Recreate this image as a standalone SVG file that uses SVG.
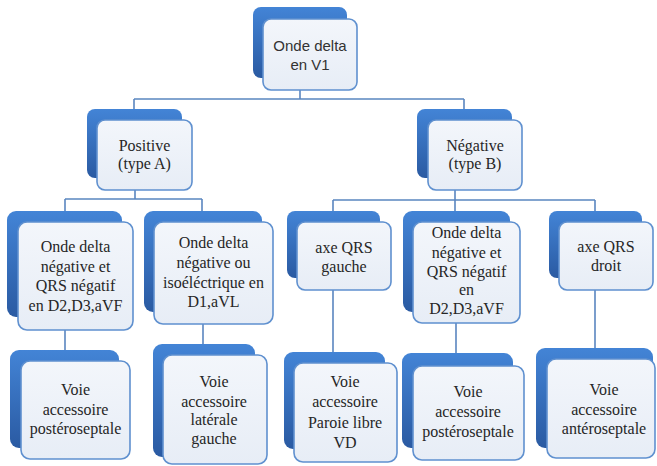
<svg xmlns="http://www.w3.org/2000/svg" width="657" height="466" viewBox="0 0 657 466">
<defs>
<linearGradient id="gBack" x1="0" y1="0" x2="0" y2="1">
<stop offset="0" stop-color="#4384d6"/>
<stop offset="1" stop-color="#2a5aa2"/>
</linearGradient>
<linearGradient id="gFront" x1="0" y1="0" x2="0" y2="1">
<stop offset="0" stop-color="#f3f6fb"/>
<stop offset="1" stop-color="#e7edf6"/>
</linearGradient>
<style>
.back{fill:url(#gBack)}
.front{fill:url(#gFront);stroke:#5f90cf;stroke-width:1.6}
.t{font-family:"Liberation Serif","Times New Roman",serif;font-size:16px;fill:#262626;text-anchor:middle}
.ts{font-family:"Liberation Sans",Arial,sans-serif;font-size:15px;fill:#333;text-anchor:middle}
.c{fill:none;stroke:#5a86c0;stroke-width:1.6}
</style>
</defs>
<rect width="657" height="466" fill="#ffffff"/>
<g id="connectors">
<path class="c" d="M300,90 V99 M134,99 H464 M134,99 V109 M464,99 V109"/>
<path class="c" d="M135,190 V199 M65,199 H202 M65,199 V211 M202,199 V211"/>
<path class="c" d="M455,190 V200 M333,200 H595 M333,200 V211 M455,200 V211 M595,200 V211"/>
<path class="c" d="M65,330 V350 M203,324 V344 M333,290 V352 M456,323 V353 M595,290 V348"/>
</g>
<g id="n-root">
<rect class="back" x="253" y="7" width="94" height="71" rx="8"/>
<rect class="front" x="263" y="19" width="94" height="71" rx="8"/>
<text class="ts" x="310" y="51">Onde delta</text>
<text class="ts" x="310" y="70">en V1</text>
</g>
<g id="n-positive">
<rect class="back" x="87" y="109" width="95" height="69" rx="8"/>
<rect class="front" x="97" y="120" width="95" height="70" rx="8"/>
<text class="t" x="144.5" y="151">Positive</text>
<text class="t" x="144.5" y="169">(type A)</text>
</g>
<g id="n-negative">
<rect class="back" x="417" y="109" width="95" height="69" rx="8"/>
<rect class="front" x="428" y="120" width="94" height="70" rx="8"/>
<text class="t" x="475" y="151">Négative</text>
<text class="t" x="475" y="169">(type B)</text>
</g>
<g id="n-a1">
<rect class="back" x="7" y="211" width="115" height="106" rx="9"/>
<rect class="front" x="18" y="222" width="115" height="108" rx="9"/>
<text class="t" x="75.5" y="252">Onde delta</text>
<text class="t" x="75.5" y="272">négative et</text>
<text class="t" x="75.5" y="291">QRS négatif</text>
<text class="t" x="75.5" y="311">en D2,D3,aVF</text>
</g>
<g id="n-a2">
<rect class="back" x="144" y="211" width="118" height="101" rx="9"/>
<rect class="front" x="154" y="222" width="119" height="102" rx="9"/>
<text class="t" x="213.5" y="248">Onde delta</text>
<text class="t" x="213.5" y="268">négative ou</text>
<text class="t" x="213.5" y="288">isoéléctrique en</text>
<text class="t" x="213.5" y="307">D1,aVL</text>
</g>
<g id="n-b1">
<rect class="back" x="287" y="211" width="93" height="67" rx="8"/>
<rect class="front" x="297" y="222" width="94" height="68" rx="8"/>
<text class="t" x="344" y="253">axe QRS</text>
<text class="t" x="344" y="272">gauche</text>
</g>
<g id="n-b2">
<rect class="back" x="403" y="211" width="107" height="101" rx="9"/>
<rect class="front" x="413" y="222" width="107" height="101" rx="9"/>
<text class="t" x="466.5" y="238">Onde delta</text>
<text class="t" x="466.5" y="258">négative et</text>
<text class="t" x="466.5" y="277">QRS négatif</text>
<text class="t" x="466.5" y="295">en</text>
<text class="t" x="466.5" y="314">D2,D3,aVF</text>
</g>
<g id="n-b3">
<rect class="back" x="549" y="211" width="93" height="67" rx="8"/>
<rect class="front" x="559" y="222" width="94" height="68" rx="8"/>
<text class="t" x="606" y="252">axe QRS</text>
<text class="t" x="606" y="271">droit</text>
</g>
<g id="n-a1v">
<rect class="back" x="10" y="350" width="109" height="98" rx="9"/>
<rect class="front" x="21" y="361" width="109" height="98" rx="9"/>
<text class="t" x="75.5" y="395">Voie</text>
<text class="t" x="75.5" y="415">accessoire</text>
<text class="t" x="75.5" y="434">postéroseptale</text>
</g>
<g id="n-a2v">
<rect class="back" x="153" y="344" width="102" height="113" rx="9"/>
<rect class="front" x="163" y="355" width="104" height="109" rx="9"/>
<text class="t" x="214" y="387">Voie</text>
<text class="t" x="214" y="407">accessoire</text>
<text class="t" x="214" y="425">latérale</text>
<text class="t" x="214" y="444">gauche</text>
</g>
<g id="n-b1v">
<rect class="back" x="284" y="352" width="101" height="97" rx="9"/>
<rect class="front" x="294" y="363" width="103" height="99" rx="9"/>
<text class="t" x="345" y="387">Voie</text>
<text class="t" x="345" y="407">accessoire</text>
<text class="t" x="345" y="428">Paroie libre</text>
<text class="t" x="345" y="448">VD</text>
</g>
<g id="n-b2v">
<rect class="back" x="402" y="353" width="111" height="95" rx="9"/>
<rect class="front" x="413" y="366" width="111" height="94" rx="9"/>
<text class="t" x="468" y="397">Voie</text>
<text class="t" x="468" y="417">accessoire</text>
<text class="t" x="468" y="437">postéroseptale</text>
</g>
<g id="n-b3v">
<rect class="back" x="536" y="348" width="117" height="100" rx="9"/>
<rect class="front" x="547" y="359" width="108" height="99" rx="9"/>
<text class="t" x="604" y="395">Voie</text>
<text class="t" x="604" y="415">accessoire</text>
<text class="t" x="604" y="434">antéroseptale</text>
</g>
</svg>
